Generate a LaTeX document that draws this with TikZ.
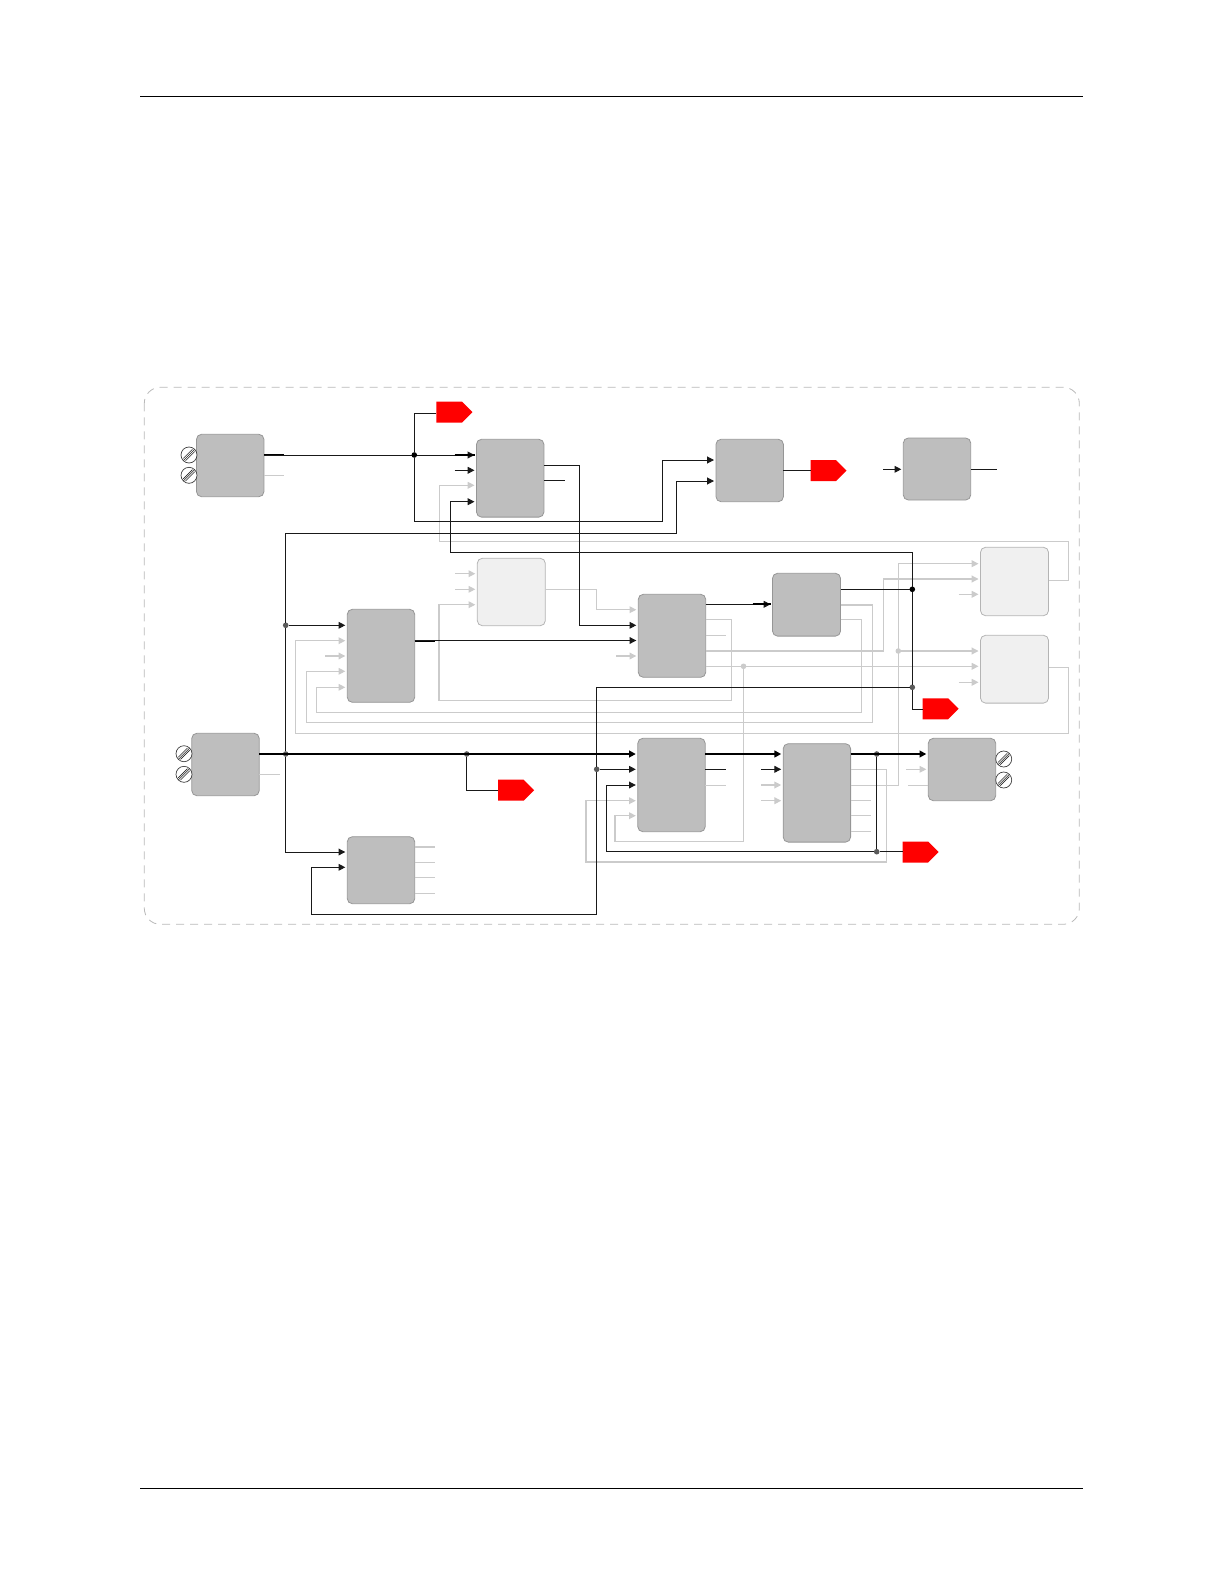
\documentclass[tikz,border=0pt]{standalone}
\usetikzlibrary{arrows.meta,shapes.symbols}
\definecolor{blockgray}{RGB}{190,190,190}
\definecolor{blockedge}{RGB}{150,150,150}
\definecolor{paleblock}{RGB}{240,240,240}
\definecolor{paleedge}{RGB}{180,180,180}
\definecolor{wirelight}{RGB}{203,203,203}
\definecolor{framegray}{RGB}{185,185,185}
\definecolor{dotgray}{RGB}{90,90,90}
\tikzset{
  >={Triangle[length=3.4pt,width=3.4pt]},
  block/.style={draw=blockedge,fill=blockgray,line width=0.4pt,rounded corners=2.5pt,
    minimum width=33.7pt,minimum height=#1,inner sep=0pt,outer sep=0pt},
  pale/.style={draw=paleedge,fill=paleblock,line width=0.4pt,rounded corners=2.5pt,
    minimum width=34pt,minimum height=#1,inner sep=0pt,outer sep=0pt},
  tagbox/.style={signal,signal to=east,signal pointer angle=90,fill=red,draw=none,
    minimum width=18pt,minimum height=10.5pt,inner sep=0pt,outer sep=0pt},
  dot/.style={circle,fill=#1,draw=none,minimum size=2.8pt,inner sep=0pt,outer sep=0pt},
  dot/.default=dotgray,
  wire/.style={black!90,line width=0.5pt},
  bus/.style={black,line width=1pt},
  thin wire/.style={wirelight,line width=0.55pt},
  wire in/.style={wire,->,shorten >=1pt},
  bus in/.style={bus,->,shorten >=1pt},
  thin in/.style={thin wire,->,shorten >=1pt},
  % pictograms
  pics/term/.style={code={
    \draw[black!75,fill=white,line width=0.35pt] (0,0) circle (8);
    \foreach \s/\l in {-1.1/4.6,0/5.6,1.1/4.6}
      \draw[black!85,line width=0.3pt] (-\l+\s,\l+\s) -- (\l+\s,-\l+\s);
  }},
}
\begin{document}
\begin{tikzpicture}[x=0.5pt,y=-0.5pt]
  \useasboundingbox (0,0) rectangle (1224,1584);
  \draw[black,line width=0.4pt] (140,96) -- (1083,96) (140,1488) -- (1083,1488);
  \draw[framegray,dashed,line width=0.4pt,dash pattern=on 4pt off 3pt,rounded corners=8pt]
    (144.3,387.3) rectangle (1079.3,924.3);
  % blocks
  \node[block=31.2pt] (inA) at (230.2,465.5) {};
  \node[block=38.9pt] (mixB) at (510.2,478.2) {};
  \node[block=31.2pt] (outC) at (749.7,470.5) {};
  \node[block=31pt] (auxR) at (937,469) {};
  \node[pale=34.2pt] (paleH) at (1014.5,581.5) {};
  \node[pale=33.9pt] (paleI) at (1014.5,669.2) {};
  \node[pale=33.7pt] (paleL) at (511.3,592) {};
  \node[block=41.5pt] (mixE) at (672,635.8) {};
  \node[block=31.4pt,minimum width=34pt] (mixG) at (806.5,604.7) {};
  \node[block=46.5pt] (mixD) at (381,655.8) {};
  \node[block=31.2pt] (inK) at (225.5,764.5) {};
  \node[block=33.5pt] (subF) at (381,870.2) {};
  \node[block=46.7pt] (mixJ) at (671.5,785) {};
  \node[block=49.2pt] (mixM) at (816.9,792.9) {};
  \node[block=31.2pt] (outN) at (962,769.5) {};
  % red tags
  \node[tagbox] (tagA) at (449.2,412.2) {};
  \node[tagbox] (tagC) at (823.3,470.6) {};
  \node[tagbox] (tagK) at (510.9,790.2) {};
  \node[tagbox] (tagM) at (915.3,852) {};
  \node[tagbox] (tagV) at (935.3,708.8) {};
  % terminals
  \foreach \x/\y in {189/455,189/475.3,184/753.7,184/774.3,1003.7/759,1003.7/780}
    \pic at (\x,\y) {term};
  % junctions
  \node[dot=black] (jTop) at (414.3,455) {};
  \node[dot] (jLeftA) at (285.7,625.3) {};
  \node[dot] (jLeftB) at (285.7,754) {};
  \node[dot] (jTag) at (466.7,754) {};
  \node[dot] (jBack) at (596.7,769.3) {};
  \node[dot=black] (jRight) at (912.3,589.3) {};
  \node[dot] (jVert) at (912.3,687.3) {};
  \node[dot] (jOutM) at (876.7,754) {};
  \node[dot] (jLow) at (876.7,851.7) {};
  \node[dot=wirelight] (jPaleE) at (743.5,666.3) {};
  \node[dot=wirelight] (jPaleM) at (898.3,651) {};
  % light wires
  \draw[thin in] (paleH.east |- 0,580.3) -- (1068.7,580.3) -- (1068.7,541.3) -- (439.7,541.3) -- (439.7,485.3) -- (mixB.west |- 0,485.3);
  \draw[thin in] (paleL.east |- 0,589.3) -- (596.7,589.3) -- (596.7,609.7) -- (mixE.west |- 0,609.7);
  \draw[thin in] (mixE.east |- 0,619.7) -- (731.7,619.7) -- (731.7,700.7) -- (439,700.7) -- (439,604.7) -- (paleL.west |- 0,604.7);
  \draw[thin in] (mixE.east |- 0,651) -- (883.3,651) -- (883.3,579) -- (paleH.west |- 0,579);
  \draw[thin in] (mixE.east |- 0,666.3) -- (paleI.west |- 0,666.3);
  \draw[thin in] (jPaleE) -- (743.5,841.7) -- (615,841.7) -- (615,815.7) -- (mixJ.west |- 0,815.7);
  \draw[thin in] (paleI.east |- 0,667.3) -- (1068.7,667.3) -- (1068.7,733.3) -- (295.3,733.3) -- (295.3,640.7) -- (mixD.west |- 0,640.7);
  \draw[thin in] (mixG.east |- 0,605) -- (872.7,605) -- (872.7,722.7) -- (306.3,722.7) -- (306.3,671.3) -- (mixD.west |- 0,671.3);
  \draw[thin in] (mixG.east |- 0,619.7) -- (861.7,619.7) -- (861.7,712.3) -- (316.3,712.3) -- (316.3,687.3) -- (mixD.west |- 0,687.3);
  \draw[thin in] (mixM.east |- 0,769.3) -- (886.3,769.3) -- (886.3,862) -- (586,862) -- (586,800.7) -- (mixJ.west |- 0,800.7);
  \draw[thin in] (mixM.east |- 0,785.3) -- (898.3,785.3) -- (898.3,563.7) -- (paleH.west |- 0,563.7);
  \draw[thin in] (jPaleM) -- (paleI.west |- 0,651);
  % short stubs
  \foreach \n/\y in {paleL/573.7,paleL/589.3,mixD/656,mixE/656,paleH/594.3,paleI/682.3,mixM/785,mixM/800.7,outN/769.3}
    \draw[thin in] (\n.west |- 0,\y) ++(-22,0) -- ++(22,0);
  \foreach \n/\y in {inA/475.3,inK/774.3,subF/847,subF/862.3,subF/877.3,subF/893.3,mixE/635.3,mixJ/785.7,mixM/800.7,mixM/815.3,mixM/831.3}
    \draw[thin wire] (\n.east |- 0,\y) -- ++(20.5,0);
  \draw[thin wire] (outN.west |- 0,785.3) -- ++(-20.5,0);
  % dark wires
  \draw[bus] (inA.east |- 0,455) -- ++(20,0);
  \draw[wire] (inA.east |- 0,455) -- (jTop);
  \draw[wire in] (jTop) -- (mixB.west |- jTop);
  \draw[bus] (mixB.west |- 0,455) ++(-22,0) -- ++(20,0);
  \draw[wire] (jTop) -- (414.3,413.3) -- (tagA.west |- 0,413.3);
  \draw[wire in] (jTop) -- (414.3,521.7) -- (662.7,521.7) -- (662.7,460) -- (outC.west |- 0,460);
  \draw[wire in] (mixB.west |- 0,470.3) ++(-22,0) -- ++(22,0);
  \draw[wire in] (jRight) -- (912.3,552.5) -- (450,552.5) -- (450,501.7) -- (mixB.west |- 0,501.7);
  \draw[wire in] (jLeftA) -- (285.7,533) -- (676.3,533) -- (676.3,481) -- (outC.west |- 0,481);
  \draw[wire in] (mixB.east |- 0,465.3) -- (579.3,465.3) -- (579.3,625.3) -- (mixE.west |- 0,625.3);
  \draw[wire] (mixB.east |- 0,480) -- ++(21,0);
  \draw[wire] (outC.east |- tagC.west) -- (tagC.west);
  \draw[wire in] (auxR.west |- 0,469.3) ++(-20,0) -- ++(20,0);
  \draw[wire] (auxR.east |- 0,469) -- ++(26,0);
  \draw[wire in] (jLeftA) -- (mixD.west |- jLeftA);
  \draw[wire] (jLeftA) -- (jLeftB);
  \draw[wire in] (jLeftB) -- (285.7,852) -- (subF.west |- 0,852);
  \draw[bus] (mixD.east |- 0,640.5) -- ++(20,0);
  \draw[wire in] (mixD.east |- 0,640.5) -- (mixE.west |- 0,640.5);
  \draw[wire in] (mixE.east |- 0,604.3) -- (mixG.west |- 0,604.3);
  \draw[bus] (mixG.west |- 0,604.3) ++(-20,0) -- ++(18,0);
  \draw[wire] (mixG.east |- jRight) -- (jRight);
  \draw[wire] (jRight) -- (jVert) -- (912.3,709.3) -- (tagV.west |- 0,709.3);
  \draw[wire] (jVert) -- (596.7,687.3) -- (jBack);
  \draw[wire in] (jBack) -- (mixJ.west |- jBack);
  \draw[wire in] (jBack) -- (596.7,914) -- (311.7,914) -- (311.7,867.3) -- (subF.west |- 0,867.3);
  % main bus
  \draw[bus in] (inK.east |- jLeftB) -- (mixJ.west |- jLeftB);
  \draw[wire] (jTag) -- (466.7,790) -- (tagK.west |- 0,790);
  \draw[bus in] (mixJ.east |- 0,754) -- (mixM.west |- 0,754);
  \draw[bus in] (mixM.east |- 0,754) -- (outN.west |- 0,754);
  \draw[wire] (mixJ.east |- 0,769.3) -- ++(20.5,0);
  \draw[wire in] (mixM.west |- 0,769.3) ++(-22,0) -- ++(22,0);
  \draw[wire] (jOutM) -- (jLow);
  \draw[wire] (jLow) -- (tagM.west |- jLow);
  \draw[wire in] (jLow) -- (606.3,851.7) -- (606.3,785) -- (mixJ.west |- 0,785);
\end{tikzpicture}
\end{document}
